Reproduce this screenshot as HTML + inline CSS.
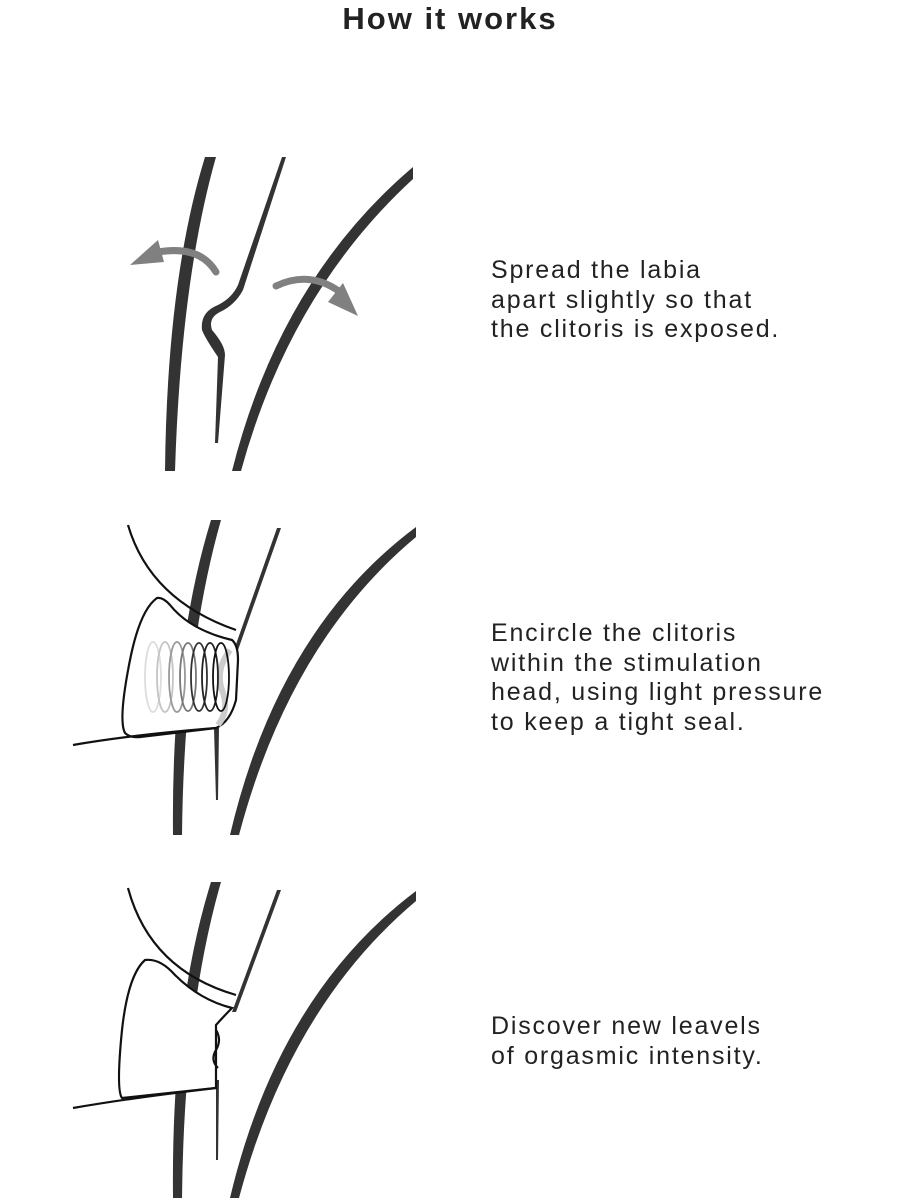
<!DOCTYPE html>
<html><head><meta charset="utf-8"><style>
html,body{margin:0;padding:0;background:#fff}
body{width:900px;height:1200px;position:relative;overflow:hidden;font-family:"Liberation Sans",sans-serif;color:#222}
h1{position:absolute;top:1px;left:0;width:900px;text-align:center;font-size:31px;letter-spacing:2px;font-weight:bold;margin:0;color:#222}
.t{position:absolute;left:491px;font-size:25px;letter-spacing:1.8px;line-height:29.5px;color:#222}
svg{position:absolute;left:0;top:0}
</style></head><body>
<h1>How it works</h1>
<svg width="900" height="1200" viewBox="0 0 900 1200">
<g fill="#333">
<path d="M205,157 L216,157 Q181,280 175,471 L165,471 Q167,280 205,157Z"/>
<path d="M413,167 L413,179 Q290,292 241,471 L232,471 Q280,280 413,167Z"/>
<path d="M282,157 L286,157 L243,290 Q235,305 220,312 Q208,318 212,330 Q225,345 225,355 L218,443 L215,443 L218,357 Q205,338 202,330 Q200,312 218,305 Q232,298 238,285Z"/>
<path d="M211,520 L221,520 Q184,650 182,835 L173,835 Q171,650 211,520Z"/>
<path d="M416,527 L416,537 Q290,642 239,835 L230,835 Q278,630 416,527Z"/>
<path d="M277,528 L281,528 L238,650 L234,650Z"/>
<path d="M214,728 L219,728 L218,800 L216,800Z"/>
<path d="M211,882 L221,882 Q184,1010 182,1198 L173,1198 Q171,1010 211,882Z"/>
<path d="M416,891 L416,901 Q290,1007 239,1198 L230,1198 Q278,995 416,891Z"/>
<path d="M277,890 L281,890 L236,1012 L232,1012Z"/>
<path d="M216,1080 L219,1080 L218,1160 L216,1160Z"/>
</g>
<g fill="none" stroke="#808080" stroke-width="7" stroke-linecap="round">
<path d="M216,272 Q200,245 158,252"/>
<path d="M276,286 Q310,270 340,292"/>
</g>
<g fill="#808080">
<polygon points="130,265 158,240 164,262"/>
<polygon points="358,316 343,283 328,302"/>
</g>
<g fill="none" stroke="#111" stroke-width="2.2">
<path d="M128,525 Q150,600 236,630"/>
<path d="M157,598 Q140,610 130,660 Q118,720 125,733 Q130,738 140,737 L216,728 Q230,722 236,700 L238,660 Q238,645 232,640 Q190,630 170,605 Q163,597 157,598Z" fill="#fff"/>
<path d="M73,745 Q130,735 216,728"/>
</g>
<path d="M230,650 Q215,670 222,690 Q230,710 218,725" fill="none" stroke="#ccc" stroke-width="6"/>
<g fill="none" stroke-width="1.8">
<ellipse cx="153" cy="677" rx="8" ry="35" stroke="#ddd"/>
<ellipse cx="165" cy="677" rx="8" ry="35" stroke="#c4c4c4"/>
<ellipse cx="177" cy="677" rx="8" ry="35" stroke="#999"/>
<ellipse cx="188" cy="677" rx="8" ry="34" stroke="#777"/>
<ellipse cx="199" cy="677" rx="8" ry="34" stroke="#333"/>
<ellipse cx="210" cy="677" rx="8" ry="34" stroke="#222"/>
<ellipse cx="221" cy="677" rx="8" ry="34" stroke="#111"/>
</g>
<g fill="none" stroke="#111" stroke-width="2.2">
<path d="M128,888 Q150,970 236,995"/>
<path d="M145,960 Q128,975 122,1030 Q116,1090 122,1098 L216,1088 L216,1025 Q225,1015 232,1008 Q200,1000 175,975 Q160,958 145,960Z" fill="#fff"/>
<path d="M73,1108 Q130,1098 216,1088"/>
<path d="M216,1030 Q222,1040 216,1050 Q210,1060 218,1068"/>
</g>
</svg>
<div class="t" style="top:256px">Spread the labia<br>apart slightly so that<br>the clitoris is exposed.</div>
<div class="t" style="top:619px">Encircle the clitoris<br>within the stimulation<br>head, using light pressure<br>to keep a tight seal.</div>
<div class="t" style="top:1012px">Discover new leavels<br>of orgasmic intensity.</div>
</body></html>
